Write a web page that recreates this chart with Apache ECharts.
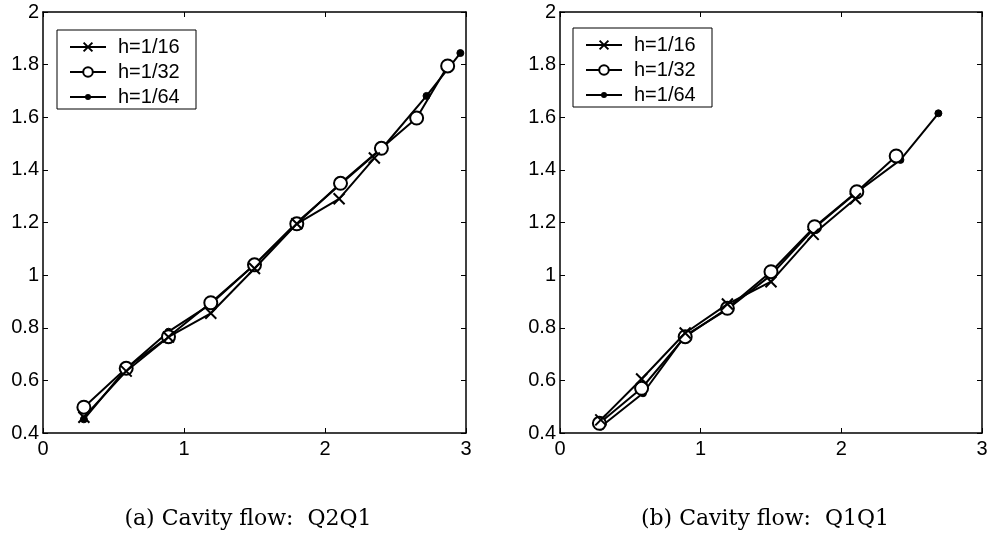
<!DOCTYPE html>
<html>
<head>
<meta charset="utf-8">
<script src="https://cdn.jsdelivr.net/npm/echarts@6/dist/echarts.min.js"></script>
<style>html,body{margin:0;padding:0;background:#fff}#c{width:995px;height:543px}</style>
</head>
<body>
<div id="c"></div>
<script>
// ---- data ----
const seriesNames = ['h=1/16', 'h=1/32', 'h=1/64'];
const captions = ['(a) Cavity flow:  Q2Q1', '(b) Cavity flow:  Q1Q1'];
const xTicks = [0, 1, 2, 3];
const yTicks = [0.4, 0.6, 0.8, 1, 1.2, 1.4, 1.6, 1.8, 2];

// Panel (a): Q2Q1
const aX16 = [0.29, 0.59, 0.89, 1.19, 1.50, 1.80, 2.10, 2.35];
const aY16 = [0.46, 0.635, 0.765, 0.855, 1.025, 1.195, 1.29, 1.445];
const aX32 = [0.29, 0.59, 0.89, 1.19, 1.50, 1.80, 2.11, 2.40, 2.65, 2.87];
const aY32 = [0.498, 0.646, 0.766, 0.895, 1.039, 1.195, 1.349, 1.482, 1.597, 1.795];
const aX64 = [0.29, 0.59, 0.89, 1.19, 1.50, 1.80, 2.11, 2.41, 2.72, 2.96];
const aY64 = [0.452, 0.645, 0.785, 0.89, 1.04, 1.20, 1.345, 1.485, 1.681, 1.844];

// Panel (b): Q1Q1
const bX16 = [0.29, 0.58, 0.89, 1.19, 1.50, 1.80, 2.10];
const bY16 = [0.45, 0.605, 0.78, 0.89, 0.975, 1.155, 1.29];
const bX32 = [0.28, 0.58, 0.89, 1.19, 1.50, 1.81, 2.11, 2.39];
const bY32 = [0.437, 0.57, 0.766, 0.874, 1.013, 1.184, 1.317, 1.453];
const bX64 = [0.29, 0.59, 0.89, 1.19, 1.50, 1.81, 2.11, 2.42, 2.69];
const bY64 = [0.424, 0.551, 0.77, 0.87, 1.00, 1.18, 1.315, 1.438, 1.615];

function zip(xs, ys) { return xs.map((x, i) => [x, ys[i]]); }

const chart = echarts.init(document.getElementById('c'), null, {renderer: 'canvas'});

const SANS = '"Liberation Sans", Arial, Helvetica, sans-serif';
const grids = [
  {left: 43, top: 12, width: 423, height: 421},
  {left: 560, top: 12, width: 422, height: 421}
];

const xAxes = [], yAxes = [];
grids.forEach((g, gi) => {
  const common = {
    type: 'value', gridIndex: gi, min: 0, max: 3, interval: 1,
    axisLine: {show: true, onZero: false, lineStyle: {color: '#000', width: 1.5}},
    axisTick: {show: true, inside: true, length: 5, lineStyle: {color: '#000', width: 1}},
    splitLine: {show: false}
  };
  xAxes.push(Object.assign({}, common, {
    position: 'bottom',
    axisLabel: {show: true, color: '#000', fontSize: 20, fontFamily: SANS, margin: 6,
      formatter: v => xTicks.includes(v) ? String(v) : ''}
  }));
  xAxes.push(Object.assign({}, common, {position: 'top', axisLabel: {show: false}}));
  const ycommon = {
    type: 'value', gridIndex: gi, min: 0.4, max: 2, interval: 0.2,
    axisLine: {show: true, onZero: false, lineStyle: {color: '#000', width: 1.5}},
    axisTick: {show: true, inside: true, length: 5, lineStyle: {color: '#000', width: 1}},
    splitLine: {show: false}
  };
  yAxes.push(Object.assign({}, ycommon, {
    position: 'left',
    axisLabel: {show: true, color: '#000', fontSize: 20, fontFamily: SANS, margin: 4,
      formatter: v => {
        const t = yTicks.find(t => Math.abs(t - v) < 1e-6);
        return t === undefined ? '' : String(t);
      }}
  }));
  yAxes.push(Object.assign({}, ycommon, {position: 'right', axisLabel: {show: false}}));
});

const crossPath = 'path://M0,0L10,10M10,0L0,10';
const styles = [
  {symbol: crossPath, symbolSize: 11, itemStyle: {color: 'none', borderColor: '#000', borderWidth: 2}},
  {symbol: 'circle', symbolSize: 13, itemStyle: {color: '#fff', borderColor: '#000', borderWidth: 2}},
  {symbol: 'circle', symbolSize: 7, itemStyle: {color: '#000', borderColor: '#000', borderWidth: 1}}
];

const panelData = [
  [zip(aX16, aY16), zip(aX32, aY32), zip(aX64, aY64)],
  [zip(bX16, bY16), zip(bX32, bY32), zip(bX64, bY64)]
];

const series = [];
panelData.forEach((pd, gi) => {
  pd.forEach((d, si) => {
    series.push(Object.assign({
      type: 'line', name: seriesNames[si], data: d,
      xAxisIndex: gi * 2, yAxisIndex: gi * 2,
      showAllSymbol: true, animation: false,
      lineStyle: {color: '#000', width: 2},
      z: 3 - si
    }, JSON.parse(JSON.stringify(styles[si]))));
  });
});

// legend boxes: [left, top, width, height]
const legendBoxes = [[57, 30, 139, 79], [573, 28, 139, 79]];
const legendIconH = [11, 12, 5];
const legends = [];
const graphics = [];
legendBoxes.forEach((b, pi) => {
  graphics.push({
    type: 'rect', shape: {x: b[0], y: b[1], width: b[2], height: b[3]},
    style: {fill: '#fff', stroke: '#000', lineWidth: 1}, z: 50
  });
  seriesNames.forEach((n, si) => {
    const cy = b[1] + 17 + si * 25;
    legends.push({
      orient: 'vertical', left: b[0] + 12, top: cy - 10,
      itemWidth: 36, itemHeight: legendIconH[si], padding: 0,
      textStyle: {color: '#000', fontSize: 20, fontFamily: SANS, padding: [0, 0, 0, 7], lineHeight: 20},
      data: [{name: n}], selectedMode: false, z: 60
    });
  });
});

captions.forEach((c, i) => {
  graphics.push({
    type: 'text', x: i === 0 ? 248 : 765, y: 519,
    style: {text: c, fill: '#000', font: '22px "DejaVu Serif", "Liberation Serif", serif',
      textAlign: 'center', textVerticalAlign: 'middle'}
  });
});

chart.setOption({
  backgroundColor: '#fff',
  animation: false,
  grid: grids,
  xAxis: xAxes,
  yAxis: yAxes,
  legend: legends,
  series: series,
  graphic: graphics
});
</script>
</body>
</html>
